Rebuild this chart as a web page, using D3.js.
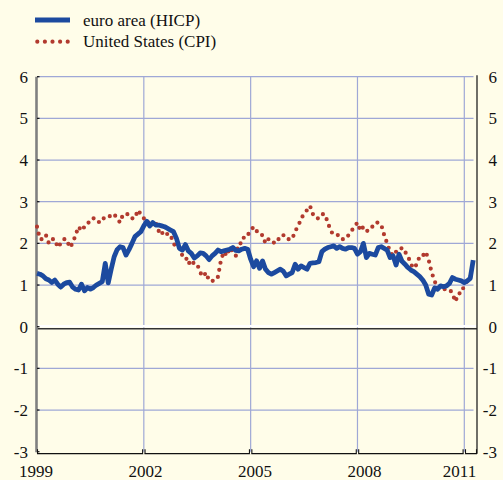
<!DOCTYPE html>
<html><head><meta charset="utf-8">
<script src="https://cdn.jsdelivr.net/npm/d3@7"></script>
<style>
html,body{margin:0;padding:0;background:#fffde9;}
svg{display:block;}
</style></head>
<body>
<script>
// Monthly data, Jan 1999 - Apr 2011 (year-on-year %, core measures)
const startYear = 1999;
const euroHICP = [
 1.28,1.26,1.22,1.15,1.12,1.06,1.12,1.02,0.95,1.02,1.06,1.07, // 1999
 0.95,0.90,0.88,1.02,0.86,0.94,0.90,0.94,1.00,1.04,1.08,1.52, // 2000
 1.05,1.38,1.68,1.85,1.92,1.90,1.72,1.85,2.00,2.16,2.22,2.28, // 2001
 2.42,2.53,2.42,2.50,2.44,2.44,2.42,2.40,2.36,2.32,2.28,2.12, // 2002
 1.88,1.84,1.97,1.82,1.76,1.65,1.70,1.77,1.76,1.70,1.61,1.70, // 2003
 1.76,1.84,1.80,1.82,1.84,1.86,1.90,1.83,1.82,1.86,1.88,1.86, // 2004
 1.62,1.44,1.58,1.40,1.58,1.38,1.30,1.26,1.30,1.34,1.38,1.33, // 2005
 1.22,1.26,1.30,1.50,1.38,1.46,1.42,1.38,1.52,1.53,1.54,1.56, // 2006
 1.80,1.86,1.90,1.92,1.94,1.88,1.92,1.88,1.86,1.90,1.90,1.88, // 2007
 1.74,1.80,2.00,1.66,1.76,1.74,1.72,1.90,1.92,1.88,1.84,1.66, // 2008
 1.70,1.48,1.74,1.57,1.50,1.42,1.36,1.32,1.26,1.20,1.12,1.00, // 2009
 0.78,0.76,0.93,0.90,0.98,0.96,0.98,1.04,1.18,1.14,1.12,1.10, // 2010
 1.06,1.10,1.16,1.60                                           // 2011
];
const usCPI = [
 2.4,2.1,2.1,2.2,2.0,2.1,2.1,1.9,2.0,2.1,2.1,1.9, // 1999
 2.0,2.2,2.4,2.3,2.4,2.5,2.5,2.6,2.6,2.5,2.6,2.6, // 2000
 2.6,2.7,2.7,2.6,2.5,2.7,2.7,2.7,2.6,2.6,2.8,2.7, // 2001
 2.6,2.6,2.4,2.5,2.5,2.3,2.2,2.4,2.2,2.2,2.0,1.9, // 2002
 1.9,1.7,1.7,1.5,1.6,1.5,1.5,1.3,1.2,1.3,1.1,1.1, // 2003
 1.1,1.2,1.6,1.8,1.7,1.9,1.8,1.7,2.0,2.0,2.2,2.2, // 2004
 2.3,2.4,2.3,2.2,2.2,2.0,2.1,2.1,2.0,2.1,2.1,2.2, // 2005
 2.1,2.1,2.1,2.3,2.4,2.6,2.7,2.8,2.9,2.7,2.6,2.6, // 2006
 2.7,2.7,2.5,2.3,2.2,2.2,2.2,2.1,2.1,2.2,2.3,2.4, // 2007
 2.5,2.3,2.4,2.3,2.3,2.4,2.5,2.5,2.45,2.2,2.0,1.8, // 2008
 1.7,1.8,1.8,1.9,1.8,1.7,1.5,1.4,1.5,1.7,1.7,1.8, // 2009
 1.6,1.3,1.1,0.9,0.9,0.9,0.9,0.9,0.8,0.6,0.8,0.8, // 2010
 1.0,1.1,1.2,1.3                                   // 2011
];
const yearTicks = [1999, 2002, 2005, 2008, 2011];
const yTicks = [-3,-2,-1,0,1,2,3,4,5,6];
const seriesNames = ["euro area (HICP)", "United States (CPI)"];

const W = 503, H = 480;
const pLeft = 37, pRight = 477, pTop = 76.7, pBottom = 451.7;
const gridRight = 473.5;
const blue = "#1c4a9f", red = "#b23a2e", gridCol = "#9fa8d6";
const fontFam = "'Liberation Serif'";

const svg = d3.select("body").append("svg").attr("width", W).attr("height", H);
svg.append("rect").attr("width", W).attr("height", H).attr("fill", "#fffde9");

const x = d3.scaleLinear().domain([1999, 2011]).range([pLeft, 464.3]);
const xLab = d3.scaleLinear().domain([1999, 2011]).range([36, 474]);
const y = d3.scaleLinear().domain([-3, 6]).range([pBottom, pTop]);

function styleText(sel) {
  return sel.style("font-family", fontFam).style("font-size", "17px").attr("fill", "#111");
}

// horizontal grid
svg.append("g").selectAll("line").data(yTicks.filter(d => d !== 0 && d !== -3)).join("line")
  .attr("x1", pLeft).attr("x2", gridRight)
  .attr("y1", d => y(d)).attr("y2", d => y(d))
  .attr("stroke", gridCol).attr("stroke-width", 1.2);
// vertical grid
svg.append("g").selectAll("line").data(yearTicks.slice(1)).join("line")
  .attr("x1", d => x(d)).attr("x2", d => x(d))
  .attr("y1", pTop).attr("y2", pBottom)
  .attr("stroke", gridCol).attr("stroke-width", 1.2);

// zero line: white highlight + dark line
svg.append("line").attr("x1", pLeft).attr("x2", pRight).attr("y1", y(0) - 0.5).attr("y2", y(0) - 0.5)
  .attr("stroke", "#ffffff").attr("stroke-width", 2.2);
svg.append("line").attr("x1", pLeft).attr("x2", pRight).attr("y1", y(0) + 2).attr("y2", y(0) + 2)
  .attr("stroke", "#333").attr("stroke-width", 1.4);

// axes frame
svg.append("line").attr("x1", pLeft - 0.5).attr("x2", pLeft - 0.5).attr("y1", pTop).attr("y2", pBottom + 0.5)
  .attr("stroke", "#808080").attr("stroke-width", 2.6);
svg.append("line").attr("x1", pRight).attr("x2", pRight).attr("y1", pTop - 1.5).attr("y2", pBottom + 2)
  .attr("stroke", "#222").attr("stroke-width", 1.3);
// left ticks
svg.append("g").selectAll("line").data(yTicks).join("line")
  .attr("x1", pLeft).attr("x2", pLeft + 2.5)
  .attr("y1", d => y(d)).attr("y2", d => y(d))
  .attr("stroke", "#111").attr("stroke-width", 1.2);

// bottom axis with bracket ticks
const axisY = pBottom + 2;
svg.append("line").attr("x1", pLeft).attr("x2", pRight).attr("y1", axisY).attr("y2", axisY)
  .attr("stroke", "#111").attr("stroke-width", 1.3);
const bt = svg.append("g");
yearTicks.forEach((tk, k) => {
  const xt = x(tk);
  if (k > 0) {
    bt.append("rect").attr("x", xt - 0.8).attr("y", axisY - 1).attr("width", 1.6).attr("height", 2).attr("fill", "#fffde9");
    bt.append("line").attr("x1", xt - 1.2).attr("x2", xt - 1.2).attr("y1", axisY).attr("y2", axisY - 4.5)
      .attr("stroke", "#111").attr("stroke-width", 1.1);
  }
  bt.append("line").attr("x1", xt + (k > 0 ? 1.2 : 0.5)).attr("x2", xt + (k > 0 ? 1.2 : 0.5)).attr("y1", axisY).attr("y2", axisY - 4.5)
    .attr("stroke", "#111").attr("stroke-width", 1.1);
});
bt.append("line").attr("x1", pRight - 0.5).attr("x2", pRight - 0.5).attr("y1", axisY).attr("y2", axisY - 4.5)
  .attr("stroke", "#111").attr("stroke-width", 1.1);

// y labels
svg.append("g").selectAll("text").data(yTicks).join("text")
  .attr("x", 28).attr("y", d => y(d)).attr("dy", "0.35em").attr("text-anchor", "end")
  .call(styleText).text(d => d);
svg.append("g").selectAll("text").data(yTicks).join("text")
  .attr("x", 497).attr("y", d => y(d)).attr("dy", "0.35em").attr("text-anchor", "end")
  .call(styleText).text(d => d);
// x labels
svg.append("g").selectAll("text").data(yearTicks).join("text")
  .attr("x", d => Math.min(xLab(d), 477 - 17.5)).attr("y", 477).attr("text-anchor", "middle")
  .call(styleText).text(d => d);

// series
const monthT = i => startYear + i / 12;
const lineGen = d3.line().x((d, i) => x(monthT(i))).y(d => y(d));
svg.append("path").datum(usCPI).attr("d", lineGen)
  .attr("fill", "none").attr("stroke", red).attr("stroke-width", 4.2)
  .attr("stroke-linecap", "round").attr("stroke-dasharray", "0 7.2");
svg.append("path").datum(euroHICP).attr("d", lineGen)
  .attr("fill", "none").attr("stroke", blue).attr("stroke-width", 4.8)
  .attr("stroke-linejoin", "round");

// legend
const lg = svg.append("g");
lg.append("line").attr("x1", 35).attr("x2", 70).attr("y1", 20).attr("y2", 20)
  .attr("stroke", blue).attr("stroke-width", 5);
lg.append("line").attr("x1", 37.3).attr("x2", 68).attr("y1", 41.7).attr("y2", 41.7)
  .attr("stroke", red).attr("stroke-width", 4.2).attr("stroke-linecap", "round").attr("stroke-dasharray", "0 7.6");
lg.append("text").attr("x", 83).attr("y", 25.5).call(styleText).text(seriesNames[0]);
lg.append("text").attr("x", 83).attr("y", 46.5).call(styleText).text(seriesNames[1]);
</script>
</body></html>
